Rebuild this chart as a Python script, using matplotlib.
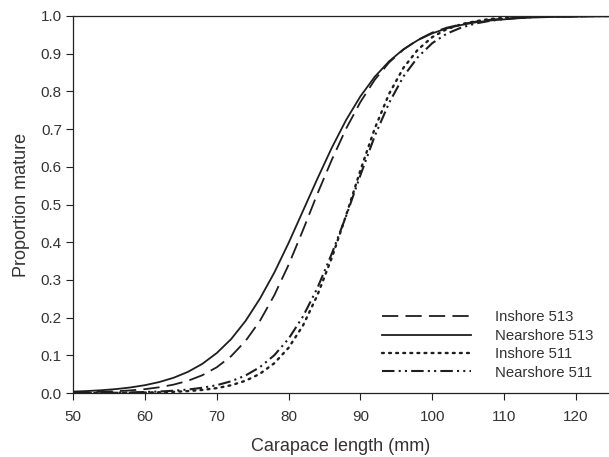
import numpy as np
import matplotlib
matplotlib.use("Agg")
import matplotlib.pyplot as plt

# carapace length (mm)
cl = [50, 52, 54, 56, 58, 60, 62, 64, 66, 68, 70, 72, 74, 76, 78, 80, 82, 84, 86, 88,
      90, 92, 94, 96, 98, 100, 102, 104, 106, 108, 110, 112, 114, 116, 118, 120, 122, 124, 126]

# proportion mature
inshore_513 = [0.0015, 0.0022, 0.0032, 0.0048, 0.0070, 0.0103, 0.0152, 0.0223, 0.0325, 0.0473,
               0.0683, 0.0977, 0.138, 0.191, 0.259, 0.340, 0.432, 0.528, 0.618, 0.701,
               0.772, 0.831, 0.877, 0.911, 0.937, 0.956, 0.969, 0.978, 0.985, 0.990,
               0.993, 0.995, 0.997, 0.998, 0.998, 0.999, 0.999, 1.0, 1.0]
nearshore_513 = [0.0038, 0.0053, 0.0075, 0.0105, 0.0148, 0.0208, 0.0291, 0.0405, 0.0562, 0.0775,
                 0.106, 0.143, 0.191, 0.250, 0.319, 0.398, 0.483, 0.568, 0.650, 0.724,
                 0.787, 0.839, 0.880, 0.912, 0.936, 0.954, 0.967, 0.976, 0.983, 0.988,
                 0.991, 0.994, 0.996, 0.997, 0.998, 0.998, 0.999, 0.999, 0.999]
inshore_511 = [0.0001, 0.0002, 0.0003, 0.0005, 0.0008, 0.0013, 0.0020, 0.0032, 0.0051, 0.0082,
               0.0130, 0.0206, 0.0325, 0.0509, 0.0789, 0.120, 0.179, 0.259, 0.358, 0.471,
               0.591, 0.702, 0.794, 0.863, 0.911, 0.944, 0.965, 0.978, 0.986, 0.992,
               0.995, 0.997, 0.998, 0.999, 0.999, 1.0, 1.0, 1.0, 1.0]
nearshore_511 = [0.0003, 0.0005, 0.0008, 0.0012, 0.0018, 0.0027, 0.0040, 0.0061, 0.0092, 0.0139,
                 0.0208, 0.0312, 0.0464, 0.0686, 0.100, 0.144, 0.203, 0.278, 0.369, 0.469,
                 0.578, 0.682, 0.770, 0.840, 0.891, 0.928, 0.953, 0.969, 0.980, 0.987,
                 0.992, 0.995, 0.997, 0.998, 0.999, 0.999, 1.0, 1.0, 1.0]

plt.rcParams['font.family'] = ['Liberation Sans', 'DejaVu Sans']
plt.rcParams['font.size'] = 11

fig = plt.figure(figsize=(6.09, 4.57), dpi=100)
ax = fig.add_axes([0.12, 0.14, 0.88, 0.825])

lc = '#1e1e1e'
ax.plot(cl, inshore_513, color=lc, lw=1.3, dashes=(9, 4), label='Inshore 513')
ax.plot(cl, nearshore_513, color=lc, lw=1.3, label='Nearshore 513')
ax.plot(cl, inshore_511, color=lc, lw=1.7, dashes=(0.8, 2.2), dash_capstyle='round', label='Inshore 511')
ax.plot(cl, nearshore_511, color=lc, lw=1.5, dashes=(6, 2, 1, 2, 1, 2), label='Nearshore 511')

ax.set_xlim(50, 124.6)
ax.set_ylim(0, 1.0)
ax.set_xticks(np.arange(50, 121, 10))
ax.set_yticks(np.arange(0, 1.01, 0.1))
ax.set_yticklabels(['%.1f' % v for v in np.arange(0, 1.01, 0.1)])
ax.tick_params(direction='out', length=5, width=0.8, colors='#222222', labelcolor='#333333')
ax.tick_params(axis='x', pad=7)
ax.tick_params(axis='y', pad=3)
ax.spines['right'].set_visible(False)
for s in ax.spines.values():
    s.set_color('#222222')
    s.set_linewidth(0.9)

ax.set_xlabel('Carapace length (mm)', fontsize=13, color='#333333', labelpad=10)
ax.set_ylabel('Proportion mature', fontsize=13, color='#333333', labelpad=8)

ax.legend(loc='lower right', bbox_to_anchor=(0.995, 0.0), frameon=False, handlelength=6.0,
          labelspacing=0.3, handletextpad=1.6, fontsize=10.7, labelcolor='#333333')

fig.savefig('out.png', dpi=100)
